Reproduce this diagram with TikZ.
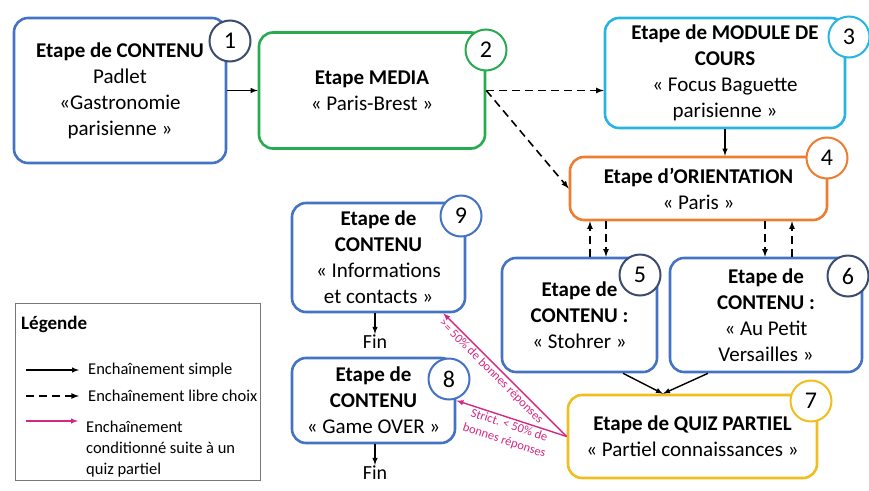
\documentclass[tikz,border=0pt]{standalone}
\usepackage{fontspec}
\setmainfont{Carlito}
\usepackage{xcolor}
\definecolor{contenublue}{RGB}{68,114,196}
\definecolor{numslate}{RGB}{60,75,110}
\definecolor{mediagreen}{RGB}{40,170,80}
\definecolor{coursecyan}{RGB}{40,180,225}
\definecolor{orientorange}{RGB}{237,125,49}
\definecolor{quizyellow}{RGB}{240,190,30}
\definecolor{condpink}{RGB}{210,40,130}
\definecolor{legendgray}{RGB}{120,120,120}

\begin{document}
\begin{tikzpicture}[x=1pt,y=-1pt,>=latex,
  etape/.style={draw, rounded corners=14pt, line width=2.6pt, align=center, fill=white, inner sep=2pt, font=\fontsize{21}{26}\selectfont},
  num/.style={circle, draw, line width=2pt, fill=white, minimum size=41pt, inner sep=0pt, font=\fontsize{24}{24}\selectfont},
  simple/.style={->, line width=1.4pt},
  libre/.style={->, line width=1.6pt, dash pattern=on 8pt off 5pt},
  cond/.style={->, line width=1.4pt, condpink},
  condlabel/.style={text=condpink, font=\fontsize{12.5}{16}\selectfont, align=center, inner sep=1.5pt},
  fin/.style={font=\fontsize{20}{24}\selectfont, inner sep=1pt},
  legtext/.style={anchor=west, font=\fontsize{16.5}{21}\selectfont, align=left, inner sep=0pt}]

\useasboundingbox (0,0) rectangle (869,490);

% etapes
\node[etape, draw=contenublue, minimum width=212pt, minimum height=145pt] (box1) at (120,90.5)
  {\textbf{Etape de CONTENU}\\Padlet\\«Gastronomie\\parisienne »};
\node[etape, draw=mediagreen, minimum width=226pt, minimum height=116pt] (box2) at (372,90.5)
  {\textbf{Etape MEDIA}\\« Paris-Brest »};
\node[etape, draw=coursecyan, minimum width=240pt, minimum height=110pt] (box3) at (725,73)
  {\textbf{Etape de MODULE DE}\\\textbf{COURS}\\« Focus Baguette\\parisienne »};
\node[etape, draw=orientorange, minimum width=257pt, minimum height=63pt] (box4) at (698.5,188.5)
  {\textbf{Etape d’ORIENTATION}\\« Paris »};
\node[etape, draw=contenublue, minimum width=155pt, minimum height=114pt] (box5) at (579.5,315)
  {\textbf{Etape de}\\\textbf{CONTENU :}\\« Stohrer »};
\node[etape, draw=contenublue, minimum width=192pt, minimum height=114pt] (box6) at (766,315)
  {\textbf{Etape de}\\\textbf{CONTENU :}\\« Au Petit\\Versailles »};
\node[etape, draw=quizyellow, minimum width=249pt, minimum height=83pt] (box7) at (692.5,436.5)
  {\textbf{Etape de QUIZ PARTIEL}\\« Partiel connaissances »};
\node[etape, draw=contenublue, minimum width=173pt, minimum height=109pt] (box9) at (378.5,257.5)
  {\textbf{Etape de}\\\textbf{CONTENU}\\« Informations\\et contacts »};
\node[etape, draw=contenublue, minimum width=163pt, minimum height=85pt] (box8) at (373.5,400.5)
  {\textbf{Etape de}\\\textbf{CONTENU}\\« Game OVER »};

% numeros
\node[num, draw=numslate] (n1) at (230,41) {1};
\node[num, draw=mediagreen] (n2) at (486,50) {2};
\node[num, draw=coursecyan] (n3) at (849,37) {3};
\node[num, draw=orientorange] (n4) at (827,158) {4};
\node[num, draw=numslate] (n5) at (640,275) {5};
\node[num, draw=numslate] (n6) at (848,276) {6};
\node[num, draw=quizyellow] (n7) at (811,401) {7};
\node[num, draw=contenublue] (n9) at (461,216) {9};
\node[num, draw=contenublue] (n8) at (449,379) {8};

\node[fin] (fin9) at (375,342) {Fin};
\node[fin] (fin8) at (375,473) {Fin};

% enchainements
\draw[simple] (box1) -- (box2);
\draw[libre] (box2.east) -- (box2.east -| box3.west);
\draw[libre] (box2.east) -- (box4.west);
\draw[simple] (box3.south) -- (box3.south |- box4.north);
\draw[libre] ([xshift=10.5pt]box5.north) -- ([xshift=-108.5pt]box4.south);
\draw[libre] ([xshift=-92.5pt]box4.south) -- ([xshift=26.5pt]box5.north);
\draw[libre] ([xshift=66.5pt]box4.south) -- ([xshift=-1pt]box6.north);
\draw[libre] ([xshift=26pt]box6.north) -- ([xshift=93.5pt]box4.south);
\draw[simple] ([xshift=43.5pt]box5.south) -- ([xshift=-29.5pt]box7.north);
\draw[simple] ([xshift=-58pt]box6.south) -- ([xshift=-29.5pt]box7.north);
\draw[simple] (box9.south -| fin9) -- (fin9);
\draw[simple] (box8.south -| fin8) -- (fin8);

\draw[cond] (box7.west) -- node[condlabel, sloped, below, pos=0.57] {>= 50\% de bonnes réponses} ([xshift=-23pt]box9.south east);
\draw[cond] (box7.west) -- node[condlabel, sloped, below, pos=0.5] {Strict. < 50\% de\\bonnes réponses} (box8.east);

% legende
\node[draw=legendgray, line width=0.8pt, minimum width=245pt, minimum height=177pt] (legende) at (137.5,391.5) {};
\node[anchor=west, font=\fontsize{19}{23}\selectfont\bfseries, inner sep=0pt] (legtitle) at (21,324) {Légende};
\coordinate (ls1) at (26,370);
\coordinate (ls2) at (26,396);
\coordinate (ls3) at (26,421);
\node[legtext] (lt1) at (88,370) {Enchaînement simple};
\node[legtext] (lt2) at (88,396) {Enchaînement libre choix};
\node[legtext, anchor=north west] (lt3) at (86,421) {Enchaînement\\conditionné suite à un\\quiz partiel};
\draw[simple] (ls1) -- ([xshift=-9pt]lt1.west);
\draw[libre] (ls2) -- ([xshift=-9pt]lt2.west);
\draw[cond] (ls3) -- ([xshift=-8pt]ls3 -| lt3.west);

\end{tikzpicture}
\end{document}
